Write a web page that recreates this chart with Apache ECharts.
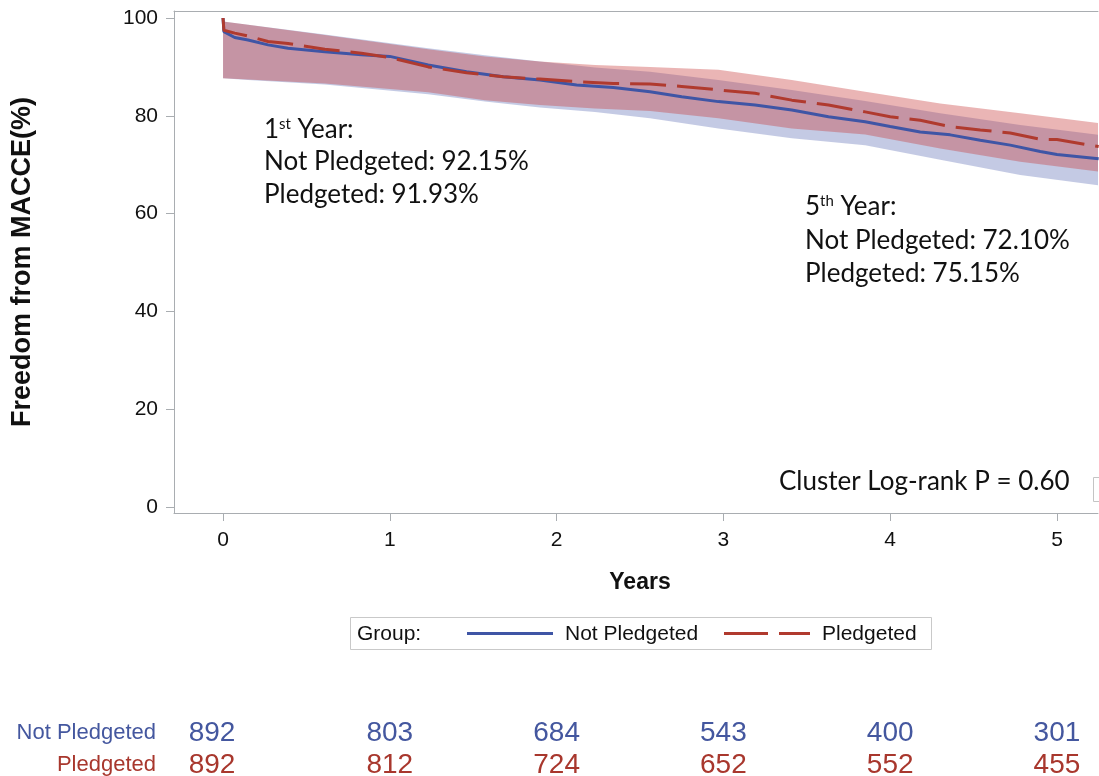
<!DOCTYPE html>
<html>
<head>
<meta charset="utf-8">
<title>Freedom from MACCE</title>
<script src="https://cdn.jsdelivr.net/npm/echarts@6/dist/echarts.min.js"></script>
<style>
  html, body { margin: 0; padding: 0; background: #fff; }
  #chart { width: 1099px; height: 776px; }
</style>
</head>
<body>
<div id="chart"></div>
<script>
// Kaplan-Meier estimates (years, % free from MACCE)
const kmTime = [0, 0.005, 0.07, 0.15, 0.27, 0.39, 0.61, 0.83, 1.0, 1.23, 1.46, 1.68, 1.9, 2.12, 2.34, 2.56, 2.75, 2.97, 3.19, 3.41, 3.63, 3.85, 4.0, 4.18, 4.36, 4.54, 4.72, 4.9, 5.0, 5.25];
const kmNotPledgeted = [100, 97.2, 96.0, 95.5, 94.5, 93.8, 93.1, 92.5, 92.15, 90.4, 89.0, 88.0, 87.3, 86.3, 85.8, 84.9, 83.9, 82.9, 82.2, 81.2, 79.8, 78.8, 77.8, 76.7, 76.1, 75.0, 74.0, 72.7, 72.10, 71.2];
const kmPledgeted = [100, 97.5, 96.9, 96.3, 95.2, 94.8, 93.6, 92.8, 91.93, 90.0, 88.8, 88.0, 87.5, 87.0, 86.6, 86.5, 86.0, 85.3, 84.6, 83.2, 82.2, 80.8, 79.8, 79.1, 77.8, 77.1, 76.5, 75.2, 75.15, 73.7];

// Confidence bands
const bandTime = [0, 0.15, 0.61, 1.23, 1.57, 1.9, 2.23, 2.56, 2.97, 3.41, 3.85, 4.3, 4.78, 5.25];
const notUpper = [99.3, 98.6, 96.6, 93.8, 92.4, 91.1, 89.9, 89.0, 87.3, 85.3, 83.0, 80.5, 78.1, 76.1];
const notLower = [87.7, 87.3, 86.4, 84.4, 82.9, 81.7, 80.8, 79.5, 77.4, 75.4, 74.0, 71.0, 67.9, 65.8];
const plUpper = [99.3, 98.6, 96.5, 93.6, 92.1, 91.1, 90.4, 90.0, 89.4, 87.3, 84.9, 82.5, 80.5, 78.5];
const plLower = [87.7, 87.4, 86.6, 84.8, 83.2, 82.2, 81.5, 81.0, 79.5, 77.4, 76.2, 73.3, 70.6, 68.6];

// Number at risk
const riskYears = [0, 1, 2, 3, 4, 5];
const riskNotPledgeted = [892, 803, 684, 543, 400, 301];
const riskPledgeted = [892, 812, 724, 652, 552, 455];
const groups = ['Pledgeted', 'Not Pledgeted']; // row 0 (bottom), row 1 (top)

// Axis ticks
const xTicks = [0, 1, 2, 3, 4, 5];
const yTicks = [0, 20, 40, 60, 80, 100];

const BLUE = '#3f55a5';
const RED = '#b03a2e';
const BLUE_TXT = '#44579f';
const RED_TXT = '#a8372d';
const AXIS_GRAY = '#a9adb1';
const FONT = '"Liberation Sans", Arial, sans-serif';
const NOTE_FONT = 'Lato, "Open Sans", sans-serif';

// visible part of the time axis (frame continues past the right edge)
const X_MIN = -0.294, X_MAX = 5.246;

const pairs = (xs, ys) => xs.map((x, i) => [x, ys[i]]);

const chart = echarts.init(document.getElementById('chart'), null, { renderer: 'canvas' });

// Confidence band drawn as a polygon: upper edge forward, lower edge back
function bandSeries(name, upper, lower, color, z) {
  return {
    name: name + ' band', type: 'custom', silent: true, clip: true, z: z,
    xAxisIndex: 0, yAxisIndex: 0,
    data: [[bandTime[0], upper[0]]],
    renderItem: function (params, api) {
      const top = bandTime.map((t, i) => api.coord([t, upper[i]]));
      const bottom = bandTime.map((t, i) => api.coord([t, lower[i]])).reverse();
      return {
        type: 'polygon',
        shape: { points: top.concat(bottom) },
        style: { fill: color }
      };
    }
  };
}

const riskData = [];
riskYears.forEach((t, i) => {
  const off = i === 0 ? [-11, 0] : [0, 0];
  riskData.push({ value: [t, 1, riskNotPledgeted[i]], label: { color: BLUE_TXT, offset: off } });
  riskData.push({ value: [t, 0, riskPledgeted[i]], label: { color: RED_TXT, offset: off } });
});

const noteText = (x, y, text, rich) => ({
  type: 'text', x: x, y: y, z: 50,
  style: {
    text: text, font: '26px ' + NOTE_FONT, fill: '#111',
    rich: rich || undefined, verticalAlign: 'middle', align: 'left'
  }
});

const supRich = {
  n: { fontSize: 26, fontFamily: NOTE_FONT, color: '#111' },
  s: { fontSize: 15, fontFamily: NOTE_FONT, color: '#111', verticalAlign: 'top', padding: [0, 0, 10, 0] }
};

const legendText = (x, text) => ({
  type: 'text', x: x, y: 634, z: 41,
  style: { text: text, font: '21px ' + FONT, fill: '#111', verticalAlign: 'middle', align: 'left' }
});

const option = {
  animation: false,
  backgroundColor: '#fff',
  grid: [
    { left: 174, top: 11, width: 924, height: 502 },
    { left: 174, top: 717, width: 924, height: 55 }
  ],
  xAxis: [
    {
      type: 'value', gridIndex: 0, min: X_MIN, max: X_MAX,
      name: 'Years', nameLocation: 'middle', nameGap: 58,
      nameTextStyle: { fontFamily: FONT, fontSize: 23, fontWeight: 'bold', color: '#111', padding: [0, 0, 0, 8] },
      axisLine: { show: true, onZero: false, lineStyle: { color: AXIS_GRAY, width: 1 } },
      axisTick: { show: true, inside: false, length: 8, customValues: xTicks, lineStyle: { color: AXIS_GRAY } },
      axisLabel: { customValues: xTicks, margin: 17, fontFamily: FONT, fontSize: 21, color: '#111' },
      splitLine: { show: false }
    },
    {
      // top edge of the plot frame
      type: 'value', gridIndex: 0, position: 'top', min: X_MIN, max: X_MAX,
      axisLine: { show: true, onZero: false, lineStyle: { color: AXIS_GRAY, width: 1 } },
      axisTick: { show: false }, axisLabel: { show: false }, splitLine: { show: false }
    },
    {
      type: 'value', gridIndex: 1, min: X_MIN, max: X_MAX, show: false
    }
  ],
  yAxis: [
    {
      type: 'value', gridIndex: 0, min: -1.227, max: 101.43,
      name: 'Freedom from MACCE(%)', nameLocation: 'middle', nameGap: 138,
      nameTextStyle: { fontFamily: FONT, fontSize: 27, fontWeight: 'bold', color: '#111' },
      axisLine: { show: true, onZero: false, lineStyle: { color: AXIS_GRAY, width: 1 } },
      axisTick: { show: true, inside: false, length: 8, customValues: yTicks, lineStyle: { color: AXIS_GRAY } },
      axisLabel: { customValues: yTicks, margin: 16, fontFamily: FONT, fontSize: 21, color: '#111' },
      splitLine: { show: false }
    },
    {
      type: 'value', gridIndex: 1, min: -0.21875, max: 1.5,
      axisLine: { show: false }, axisTick: { show: false }, splitLine: { show: false },
      axisLabel: {
        customValues: [0, 1], margin: 18, fontFamily: FONT, fontSize: 22,
        formatter: (v) => groups[Math.round(v)],
        color: (v) => (Math.round(v) === 1 ? BLUE_TXT : RED_TXT)
      }
    }
  ],
  series: [
    bandSeries('Not Pledgeted', notUpper, notLower, 'rgba(70,90,170,0.32)', 1),
    bandSeries('Pledgeted', plUpper, plLower, 'rgba(200,60,60,0.38)', 2),
    {
      name: 'Not Pledgeted', type: 'line', data: pairs(kmTime, kmNotPledgeted),
      symbol: 'none', z: 5,
      lineStyle: { color: BLUE, width: 3 }
    },
    {
      name: 'Pledgeted', type: 'line', data: pairs(kmTime, kmPledgeted),
      symbol: 'none', z: 6,
      lineStyle: { color: RED, width: 3, type: [36, 11] }
    },
    {
      name: 'At risk', type: 'scatter', xAxisIndex: 2, yAxisIndex: 1,
      symbolSize: 0, silent: true, data: riskData,
      itemStyle: { opacity: 1 },
      label: {
        show: true, position: 'inside', fontFamily: FONT, fontSize: 28, opacity: 1,
        textBorderWidth: 0, textBorderColor: 'transparent',
        formatter: (p) => String(p.value[2])
      }
    }
  ],
  graphic: [
    // annotations
    noteText(264, 130, '{n|1}{s|st}{n| Year:}', supRich),
    noteText(264, 162, 'Not Pledgeted: 92.15%'),
    noteText(264, 195, 'Pledgeted: 91.93%'),
    noteText(805, 207, '{n|5}{s|th}{n| Year:}', supRich),
    noteText(805, 241, 'Not Pledgeted: 72.10%'),
    noteText(805, 274, 'Pledgeted: 75.15%'),
    noteText(779, 482, 'Cluster Log-rank P = 0.60'),
    // inset frame edge at the right
    { type: 'rect', shape: { x: 1093.5, y: 477.5, width: 40, height: 24 }, style: { fill: 'none', stroke: '#c4c4c4', lineWidth: 1 }, z: 40 },
    // legend
    { type: 'rect', shape: { x: 350.5, y: 617.5, width: 581, height: 32 }, style: { fill: '#fff', stroke: '#c9c9c9', lineWidth: 1 }, z: 40 },
    legendText(357, 'Group:'),
    { type: 'line', shape: { x1: 467, y1: 633.5, x2: 553, y2: 633.5 }, style: { stroke: BLUE, lineWidth: 3 }, z: 41 },
    legendText(565, 'Not Pledgeted'),
    { type: 'line', shape: { x1: 724, y1: 633.5, x2: 810, y2: 633.5 }, style: { stroke: RED, lineWidth: 3, lineDash: [44, 11] }, z: 41 },
    legendText(822, 'Pledgeted')
  ]
};

chart.setOption(option);
</script>
</body>
</html>
